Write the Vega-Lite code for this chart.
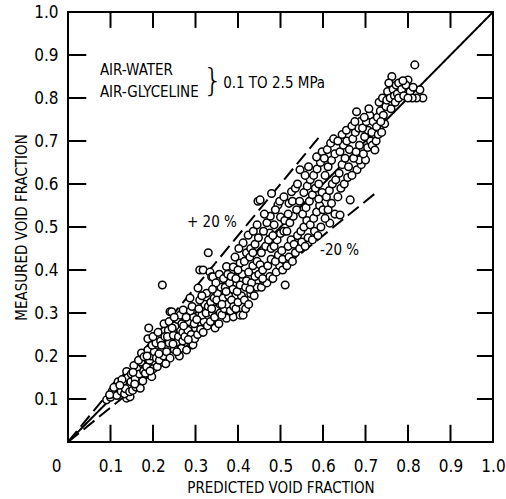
{
  "$schema": "https://vega.github.io/schema/vega-lite/v6.json",
  "width": 425,
  "height": 430,
  "autosize": "none",
  "padding": {"left": 68, "top": 12, "right": 13, "bottom": 57},
  "background": "white",
  "config": {
    "view": {"stroke": "black", "strokeWidth": 2},
    "font": "DejaVu Sans Condensed, DejaVu Sans",
    "axis": {"grid": false, "domain": false, "ticks": false, "labelFlush": false, "labelColor": "black", "titleColor": "black", "labelFont": "DejaVu Sans Condensed, DejaVu Sans", "titleFont": "DejaVu Sans Condensed, DejaVu Sans", "labelFontSize": 17, "titleFontSize": 15, "titleFontWeight": "normal"}
  },
  "datasets": {
    "pts": [
{"p":0.091,"m":0.098},{"p":0.10,"m":0.104},{"p":0.105,"m":0.112},{"p":0.11,"m":0.121},{"p":0.113,"m":0.131},{"p":0.118,"m":0.14},{"p":0.104,"m":0.118},{"p":0.115,"m":0.108},{"p":0.12,"m":0.125},{"p":0.098,"m":0.11},{"p":0.108,"m":0.127},
{"p":0.138,"m":0.102},{"p":0.146,"m":0.105},{"p":0.125,"m":0.118},{"p":0.13,"m":0.135},{"p":0.138,"m":0.164},{"p":0.141,"m":0.15},{"p":0.133,"m":0.112},{"p":0.142,"m":0.128},{"p":0.127,"m":0.145},{"p":0.148,"m":0.14},{"p":0.135,"m":0.124},{"p":0.145,"m":0.117},{"p":0.149,"m":0.158},{"p":0.122,"m":0.132},
{"p":0.165,"m":0.137},{"p":0.173,"m":0.207},{"p":0.152,"m":0.12},{"p":0.158,"m":0.147},{"p":0.162,"m":0.17},{"p":0.168,"m":0.158},{"p":0.155,"m":0.178},{"p":0.172,"m":0.186},{"p":0.176,"m":0.142},{"p":0.178,"m":0.165},{"p":0.16,"m":0.128},{"p":0.17,"m":0.125},{"p":0.153,"m":0.162},{"p":0.166,"m":0.19},{"p":0.179,"m":0.198},{"p":0.157,"m":0.135},
{"p":0.19,"m":0.265},{"p":0.197,"m":0.152},{"p":0.205,"m":0.183},{"p":0.188,"m":0.214},{"p":0.188,"m":0.24},{"p":0.182,"m":0.16},{"p":0.185,"m":0.175},{"p":0.192,"m":0.19},{"p":0.196,"m":0.2},{"p":0.2,"m":0.17},{"p":0.203,"m":0.21},{"p":0.208,"m":0.195},{"p":0.186,"m":0.2},{"p":0.198,"m":0.225},{"p":0.207,"m":0.23},{"p":0.193,"m":0.165},{"p":0.21,"m":0.175},{"p":0.2,"m":0.245},
{"p":0.222,"m":0.365},{"p":0.22,"m":0.214},{"p":0.215,"m":0.19},{"p":0.225,"m":0.2},{"p":0.232,"m":0.21},{"p":0.218,"m":0.235},{"p":0.228,"m":0.245},{"p":0.236,"m":0.26},{"p":0.212,"m":0.255},{"p":0.226,"m":0.275},{"p":0.238,"m":0.23},{"p":0.24,"m":0.195},{"p":0.23,"m":0.182},{"p":0.214,"m":0.205},{"p":0.234,"m":0.245},{"p":0.22,"m":0.225},{"p":0.238,"m":0.28},{"p":0.24,"m":0.303},
{"p":0.244,"m":0.303},{"p":0.267,"m":0.218},{"p":0.25,"m":0.215},{"p":0.255,"m":0.232},{"p":0.248,"m":0.248},{"p":0.26,"m":0.245},{"p":0.265,"m":0.26},{"p":0.252,"m":0.27},{"p":0.258,"m":0.285},{"p":0.245,"m":0.265},{"p":0.262,"m":0.2},{"p":0.27,"m":0.235},{"p":0.256,"m":0.21},{"p":0.268,"m":0.275},{"p":0.264,"m":0.295},{"p":0.25,"m":0.29},{"p":0.247,"m":0.228},{"p":0.27,"m":0.255},
{"p":0.271,"m":0.307},{"p":0.279,"m":0.214},{"p":0.291,"m":0.226},{"p":0.287,"m":0.335},{"p":0.294,"m":0.226},{"p":0.275,"m":0.245},{"p":0.282,"m":0.26},{"p":0.29,"m":0.25},{"p":0.298,"m":0.24},{"p":0.285,"m":0.28},{"p":0.295,"m":0.29},{"p":0.278,"m":0.29},{"p":0.288,"m":0.305},{"p":0.3,"m":0.265},{"p":0.272,"m":0.27},{"p":0.292,"m":0.315},{"p":0.283,"m":0.238},{"p":0.297,"m":0.275},
{"p":0.306,"m":0.358},{"p":0.31,"m":0.40},{"p":0.318,"m":0.40},{"p":0.326,"m":0.346},{"p":0.33,"m":0.44},{"p":0.305,"m":0.25},{"p":0.312,"m":0.262},{"p":0.32,"m":0.28},{"p":0.315,"m":0.295},{"p":0.308,"m":0.31},{"p":0.325,"m":0.3},{"p":0.322,"m":0.32},{"p":0.31,"m":0.33},{"p":0.328,"m":0.27},{"p":0.318,"m":0.255},{"p":0.303,"m":0.285},{"p":0.33,"m":0.315},{"p":0.315,"m":0.34},
{"p":0.334,"m":0.395},{"p":0.338,"m":0.384},{"p":0.341,"m":0.384},{"p":0.346,"m":0.265},{"p":0.335,"m":0.28},{"p":0.34,"m":0.3},{"p":0.345,"m":0.29},{"p":0.35,"m":0.31},{"p":0.355,"m":0.275},{"p":0.358,"m":0.32},{"p":0.336,"m":0.325},{"p":0.344,"m":0.335},{"p":0.352,"m":0.345},{"p":0.36,"m":0.36},{"p":0.348,"m":0.37},{"p":0.356,"m":0.39},{"p":0.34,"m":0.355},{"p":0.358,"m":0.3},{"p":0.35,"m":0.33},{"p":0.338,"m":0.31},
{"p":0.373,"m":0.408},{"p":0.373,"m":0.288},{"p":0.389,"m":0.291},{"p":0.389,"m":0.407},{"p":0.362,"m":0.295},{"p":0.368,"m":0.31},{"p":0.375,"m":0.32},{"p":0.382,"m":0.305},{"p":0.365,"m":0.335},{"p":0.378,"m":0.34},{"p":0.385,"m":0.33},{"p":0.37,"m":0.36},{"p":0.38,"m":0.37},{"p":0.388,"m":0.355},{"p":0.366,"m":0.38},{"p":0.376,"m":0.39},{"p":0.384,"m":0.385},{"p":0.372,"m":0.35},{"p":0.39,"m":0.315},{"p":0.362,"m":0.32},
{"p":0.405,"m":0.416},{"p":0.405,"m":0.295},{"p":0.412,"m":0.295},{"p":0.412,"m":0.463},{"p":0.395,"m":0.31},{"p":0.4,"m":0.325},{"p":0.408,"m":0.34},{"p":0.415,"m":0.33},{"p":0.398,"m":0.35},{"p":0.405,"m":0.365},{"p":0.418,"m":0.36},{"p":0.395,"m":0.38},{"p":0.41,"m":0.39},{"p":0.4,"m":0.4},{"p":0.415,"m":0.42},{"p":0.42,"m":0.44},{"p":0.393,"m":0.43},{"p":0.418,"m":0.31},{"p":0.402,"m":0.45},{"p":0.42,"m":0.375},
{"p":0.424,"m":0.481},{"p":0.428,"m":0.43},{"p":0.447,"m":0.56},{"p":0.425,"m":0.32},{"p":0.43,"m":0.345},{"p":0.438,"m":0.34},{"p":0.445,"m":0.36},{"p":0.432,"m":0.37},{"p":0.44,"m":0.385},{"p":0.425,"m":0.395},{"p":0.435,"m":0.41},{"p":0.445,"m":0.42},{"p":0.43,"m":0.45},{"p":0.44,"m":0.46},{"p":0.448,"m":0.475},{"p":0.436,"m":0.49},{"p":0.445,"m":0.505},{"p":0.428,"m":0.355},{"p":0.449,"m":0.39},{"p":0.435,"m":0.44},
{"p":0.452,"m":0.412},{"p":0.452,"m":0.563},{"p":0.475,"m":0.486},{"p":0.479,"m":0.578},{"p":0.455,"m":0.36},{"p":0.46,"m":0.375},{"p":0.468,"m":0.37},{"p":0.475,"m":0.385},{"p":0.458,"m":0.4},{"p":0.47,"m":0.41},{"p":0.478,"m":0.425},{"p":0.455,"m":0.44},{"p":0.465,"m":0.455},{"p":0.472,"m":0.47},{"p":0.46,"m":0.49},{"p":0.468,"m":0.51},{"p":0.476,"m":0.525},{"p":0.462,"m":0.53},{"p":0.458,"m":0.38},{"p":0.478,"m":0.45},
{"p":0.494,"m":0.551},{"p":0.485,"m":0.505},{"p":0.5,"m":0.523},{"p":0.482,"m":0.38},{"p":0.49,"m":0.395},{"p":0.498,"m":0.41},{"p":0.505,"m":0.4},{"p":0.488,"m":0.42},{"p":0.495,"m":0.435},{"p":0.503,"m":0.445},{"p":0.485,"m":0.455},{"p":0.492,"m":0.47},{"p":0.5,"m":0.485},{"p":0.508,"m":0.49},{"p":0.488,"m":0.54},{"p":0.498,"m":0.56},{"p":0.508,"m":0.57},{"p":0.505,"m":0.425},{"p":0.482,"m":0.48},{"p":0.51,"m":0.515},
{"p":0.511,"m":0.365},{"p":0.526,"m":0.582},{"p":0.515,"m":0.41},{"p":0.52,"m":0.43},{"p":0.528,"m":0.42},{"p":0.535,"m":0.44},{"p":0.518,"m":0.455},{"p":0.525,"m":0.47},{"p":0.532,"m":0.46},{"p":0.54,"m":0.48},{"p":0.515,"m":0.49},{"p":0.522,"m":0.51},{"p":0.53,"m":0.525},{"p":0.538,"m":0.54},{"p":0.52,"m":0.555},{"p":0.528,"m":0.56},{"p":0.535,"m":0.59},{"p":0.54,"m":0.6},{"p":0.518,"m":0.53},
{"p":0.546,"m":0.633},{"p":0.545,"m":0.45},{"p":0.55,"m":0.465},{"p":0.558,"m":0.455},{"p":0.565,"m":0.475},{"p":0.548,"m":0.49},{"p":0.555,"m":0.5},{"p":0.562,"m":0.515},{"p":0.57,"m":0.505},{"p":0.552,"m":0.53},{"p":0.56,"m":0.545},{"p":0.568,"m":0.56},{"p":0.545,"m":0.56},{"p":0.555,"m":0.58},{"p":0.563,"m":0.595},{"p":0.57,"m":0.61},{"p":0.558,"m":0.62},{"p":0.566,"m":0.64},
{"p":0.575,"m":0.47},{"p":0.58,"m":0.49},{"p":0.588,"m":0.48},{"p":0.595,"m":0.5},{"p":0.578,"m":0.52},{"p":0.585,"m":0.535},{"p":0.592,"m":0.55},{"p":0.6,"m":0.54},{"p":0.575,"m":0.575},{"p":0.582,"m":0.59},{"p":0.59,"m":0.6},{"p":0.598,"m":0.58},{"p":0.578,"m":0.62},{"p":0.586,"m":0.635},{"p":0.594,"m":0.65},{"p":0.585,"m":0.663},{"p":0.598,"m":0.675},{"p":0.59,"m":0.565},
{"p":0.616,"m":0.509},{"p":0.605,"m":0.52},{"p":0.612,"m":0.54},{"p":0.62,"m":0.555},{"p":0.628,"m":0.53},{"p":0.608,"m":0.57},{"p":0.615,"m":0.585},{"p":0.622,"m":0.6},{"p":0.63,"m":0.61},{"p":0.605,"m":0.62},{"p":0.612,"m":0.64},{"p":0.62,"m":0.655},{"p":0.628,"m":0.67},{"p":0.61,"m":0.68},{"p":0.618,"m":0.695},{"p":0.625,"m":0.705},{"p":0.603,"m":0.66},
{"p":0.64,"m":0.528},{"p":0.664,"m":0.563},{"p":0.635,"m":0.57},{"p":0.642,"m":0.59},{"p":0.65,"m":0.6},{"p":0.658,"m":0.615},{"p":0.638,"m":0.625},{"p":0.645,"m":0.645},{"p":0.652,"m":0.66},{"p":0.64,"m":0.675},{"p":0.648,"m":0.69},{"p":0.656,"m":0.7},{"p":0.635,"m":0.7},{"p":0.645,"m":0.715},{"p":0.655,"m":0.725},{"p":0.66,"m":0.64},{"p":0.662,"m":0.68},
{"p":0.679,"m":0.768},{"p":0.68,"m":0.633},{"p":0.69,"m":0.645},{"p":0.685,"m":0.656},{"p":0.668,"m":0.62},{"p":0.672,"m":0.66},{"p":0.678,"m":0.675},{"p":0.686,"m":0.69},{"p":0.67,"m":0.705},{"p":0.676,"m":0.72},{"p":0.684,"m":0.73},{"p":0.668,"m":0.735},{"p":0.688,"m":0.745},{"p":0.675,"m":0.745},
{"p":0.70,"m":0.656},{"p":0.695,"m":0.67},{"p":0.705,"m":0.685},{"p":0.712,"m":0.7},{"p":0.698,"m":0.71},{"p":0.706,"m":0.725},{"p":0.715,"m":0.72},{"p":0.693,"m":0.73},{"p":0.702,"m":0.745},{"p":0.71,"m":0.76},{"p":0.718,"m":0.745},{"p":0.708,"m":0.775},{"p":0.697,"m":0.755},{"p":0.716,"m":0.69},
{"p":0.722,"m":0.679},{"p":0.726,"m":0.733},{"p":0.725,"m":0.7},{"p":0.73,"m":0.715},{"p":0.738,"m":0.72},{"p":0.745,"m":0.74},{"p":0.728,"m":0.755},{"p":0.735,"m":0.77},{"p":0.742,"m":0.76},{"p":0.748,"m":0.78},{"p":0.732,"m":0.79},{"p":0.74,"m":0.8},{"p":0.75,"m":0.795},{"p":0.736,"m":0.745},
{"p":0.762,"m":0.85},{"p":0.752,"m":0.815},{"p":0.758,"m":0.8},{"p":0.765,"m":0.82},{"p":0.772,"m":0.83},{"p":0.755,"m":0.835},{"p":0.768,"m":0.805},{"p":0.775,"m":0.81},{"p":0.778,"m":0.835},{"p":0.76,"m":0.775},{"p":0.77,"m":0.79},{"p":0.778,"m":0.8},
{"p":0.816,"m":0.877},{"p":0.80,"m":0.842},{"p":0.828,"m":0.819},{"p":0.835,"m":0.80},{"p":0.82,"m":0.80},{"p":0.785,"m":0.82},{"p":0.79,"m":0.805},{"p":0.795,"m":0.83},{"p":0.805,"m":0.815},{"p":0.81,"m":0.8},{"p":0.788,"m":0.84},{"p":0.812,"m":0.825},{"p":0.8,"m":0.8}
    ],
    "lines": [
      {"p": 0, "m": 0, "k": "equal"}, {"p": 1, "m": 1, "k": "equal"},
      {"p": 0, "m": 0, "k": "plus20"}, {"p": 0.59, "m": 0.708, "k": "plus20"},
      {"p": 0, "m": 0, "k": "minus20"}, {"p": 0.73, "m": 0.584, "k": "minus20"}
    ],
    "tickvals": [{"v": 0.1}, {"v": 0.2}, {"v": 0.3}, {"v": 0.4}, {"v": 0.5}, {"v": 0.6}, {"v": 0.7}, {"v": 0.8}, {"v": 0.9}],
    "labels": [
      {"p": 0.075, "m": 0.865, "t": "AIR-WATER"},
      {"p": 0.075, "m": 0.814, "t": "AIR-GLYCELINE"},
      {"p": 0.365, "m": 0.836, "t": "0.1 TO 2.5 MPa"},
      {"p": 0.28, "m": 0.512, "t": "+ 20 %"},
      {"p": 0.593, "m": 0.447, "t": "-20 %"}
    ],
    "brace": [{"p": 0.341, "m": 0.84, "t": "}"}]
  },
  "layer": [
    {
      "data": {"name": "tickvals"},
      "mark": {"type": "rule", "color": "black", "strokeWidth": 2},
      "encoding": {
        "x": {"field": "v", "type": "quantitative", "scale": {"domain": [0, 1], "nice": false}},
        "y": {"datum": 0, "type": "quantitative", "scale": {"domain": [0, 1], "nice": false}},
        "y2": {"datum": 0.04}
      }
    },
    {
      "data": {"name": "tickvals"},
      "mark": {"type": "rule", "color": "black", "strokeWidth": 2},
      "encoding": {
        "x": {"field": "v", "type": "quantitative"},
        "y": {"datum": 1, "type": "quantitative"},
        "y2": {"datum": 0.963}
      }
    },
    {
      "data": {"name": "tickvals"},
      "mark": {"type": "rule", "color": "black", "strokeWidth": 2},
      "encoding": {
        "y": {"field": "v", "type": "quantitative"},
        "x": {"datum": 0, "type": "quantitative"},
        "x2": {"datum": 0.043}
      }
    },
    {
      "data": {"name": "tickvals"},
      "mark": {"type": "rule", "color": "black", "strokeWidth": 2},
      "encoding": {
        "y": {"field": "v", "type": "quantitative"},
        "x": {"datum": 1, "type": "quantitative"},
        "x2": {"datum": 0.962}
      }
    },
    {
      "data": {"name": "lines"},
      "mark": {"type": "line", "color": "black", "strokeWidth": 2},
      "encoding": {
        "x": {"field": "p", "type": "quantitative"},
        "y": {"field": "m", "type": "quantitative"},
        "detail": {"field": "k"},
        "strokeDash": {"field": "k", "type": "nominal", "scale": {"domain": ["equal", "plus20", "minus20"], "range": [[1, 0], [14, 6], [14, 6]]}, "legend": null}
      }
    },
    {
      "data": {"name": "pts"},
      "mark": {"type": "point", "shape": "circle", "filled": false, "fill": "white", "fillOpacity": 1, "stroke": "black", "strokeWidth": 1.5, "opacity": 1, "size": 58},
      "encoding": {
        "x": {"field": "p", "type": "quantitative", "scale": {"domain": [0, 1], "nice": false},
              "axis": {"orient": "bottom", "title": "PREDICTED VOID FRACTION", "values": [0,0.1,0.2,0.3,0.4,0.5,0.6,0.7,0.8,0.9,1.0], "format": ".1f", "labelExpr": "datum.value == 0 ? '0' : datum.label", "labelPadding": 16, "titlePadding": 6,
                       "labelOffset": {"condition": {"test": "datum.value == 0", "value": -12}, "value": 0}}},
        "y": {"field": "m", "type": "quantitative", "scale": {"domain": [0, 1], "nice": false},
              "axis": {"orient": "left", "title": "MEASURED VOID FRACTION", "values": [0.1,0.2,0.3,0.4,0.5,0.6,0.7,0.8,0.9,1.0], "format": ".1f", "labelPadding": 10, "titlePadding": 4}}
      }
    },
    {
      "data": {"name": "labels"},
      "mark": {"type": "text", "align": "left", "baseline": "middle", "fontSize": 15, "font": "DejaVu Sans Condensed, DejaVu Sans", "color": "black"},
      "encoding": {
        "x": {"field": "p", "type": "quantitative"},
        "y": {"field": "m", "type": "quantitative"},
        "text": {"field": "t"}
      }
    },
    {
      "data": {"name": "brace"},
      "mark": {"type": "text", "align": "center", "baseline": "middle", "fontSize": 32, "font": "DejaVu Sans", "fontWeight": 200, "color": "black"},
      "encoding": {
        "x": {"field": "p", "type": "quantitative"},
        "y": {"field": "m", "type": "quantitative"},
        "text": {"field": "t"}
      }
    }
  ]
}
